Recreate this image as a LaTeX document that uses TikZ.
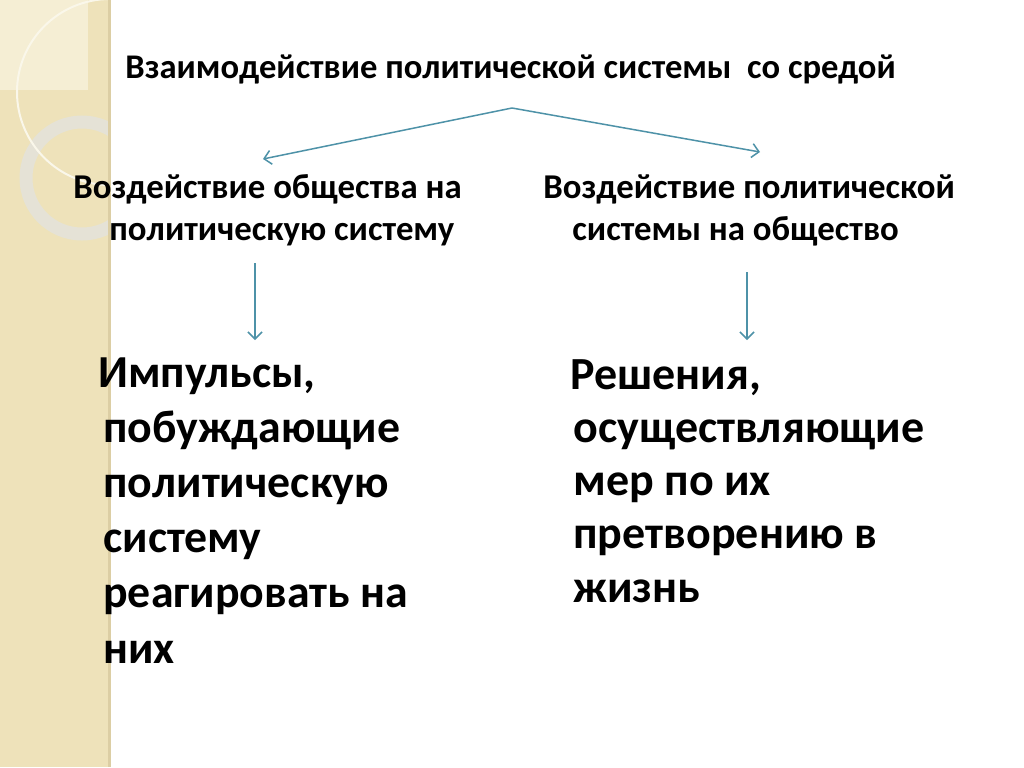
\documentclass[tikz,border=0pt]{standalone}
\usepackage{fontspec}
\setmainfont{Carlito}
\usetikzlibrary{arrows.meta}
\definecolor{stripe}{RGB}{238,226,186}
\definecolor{stripelight}{RGB}{245,238,212}
\definecolor{ringgray}{RGB}{229,226,214}
\definecolor{stripeedge}{RGB}{220,206,164}
\definecolor{arrowblue}{RGB}{78,146,168}

\begin{document}
\begin{tikzpicture}[x=0.5pt, y=-0.5pt,
  arr/.style={draw=arrowblue, line width=0.75pt, -{Straight Barb[length=3.5pt,width=7pt]}},
  titletext/.style={font=\fontsize{17.3}{20}\selectfont\bfseries, inner sep=0pt, anchor=base west},
  heading/.style={font=\fontsize{17.4}{21}\selectfont\bfseries, align=left, inner sep=0pt, anchor=base west},
  bigtext/.style={font=\fontsize{22.9}{27.6}\selectfont\bfseries, align=left, inner sep=0pt, anchor=base west}]
\useasboundingbox (0,0) rectangle (1024,767);
\fill[white] (0,0) rectangle (1024,767);

% left stripe
\fill[stripe] (0,0) rectangle (110,767);
\begin{scope}
  \clip (0,0) rectangle (110,767);
  \fill[stripelight] (0,0) rectangle (88,90);
  \draw[ringgray, line width=6.5pt] (82,178) circle (56);
  \draw[stripelight!50!white, line width=1pt] (110,92) circle (93);
\end{scope}
\fill[stripeedge] (108,0) rectangle (111,767);

\node[titletext] (title) at (125,78) {Взаимодействие политической системы\ \ со средой};

% last line sits on the anchor
\node[heading] (society) at (73,240) {Воздействие общества на\\\hspace*{18pt}политическую систему};
\node[heading] (polsys) at (543,240) {Воздействие политической\\\hspace*{14.5pt}системы на общество};

\node[bigtext] (impulses) at (103,663) {\hspace*{-2.5pt}Импульсы,\\побуждающие\\политическую\\систему\\реагировать на\\них};
\node[bigtext, font=\fontsize{23}{26.6}\selectfont\bfseries] (decisions) at (573,602) {\hspace*{-1.5pt}Решения,\\осуществляющие\\мер по их\\претворению в\\жизнь};

\coordinate (fork) at (512,108);
\coordinate (forkl) at (263,159);
\coordinate (forkr) at (760,152);
\coordinate (downl) at (255,263);
\coordinate (endl) at (255,340);
\coordinate (downr) at (747,272);
\coordinate (endr) at (747,340);

\draw[arr] (fork) -- (forkl);
\draw[arr] (fork) -- (forkr);
\draw[arr] (downl) -- (endl);
\draw[arr] (downr) -- (endr);
\end{tikzpicture}
\end{document}
